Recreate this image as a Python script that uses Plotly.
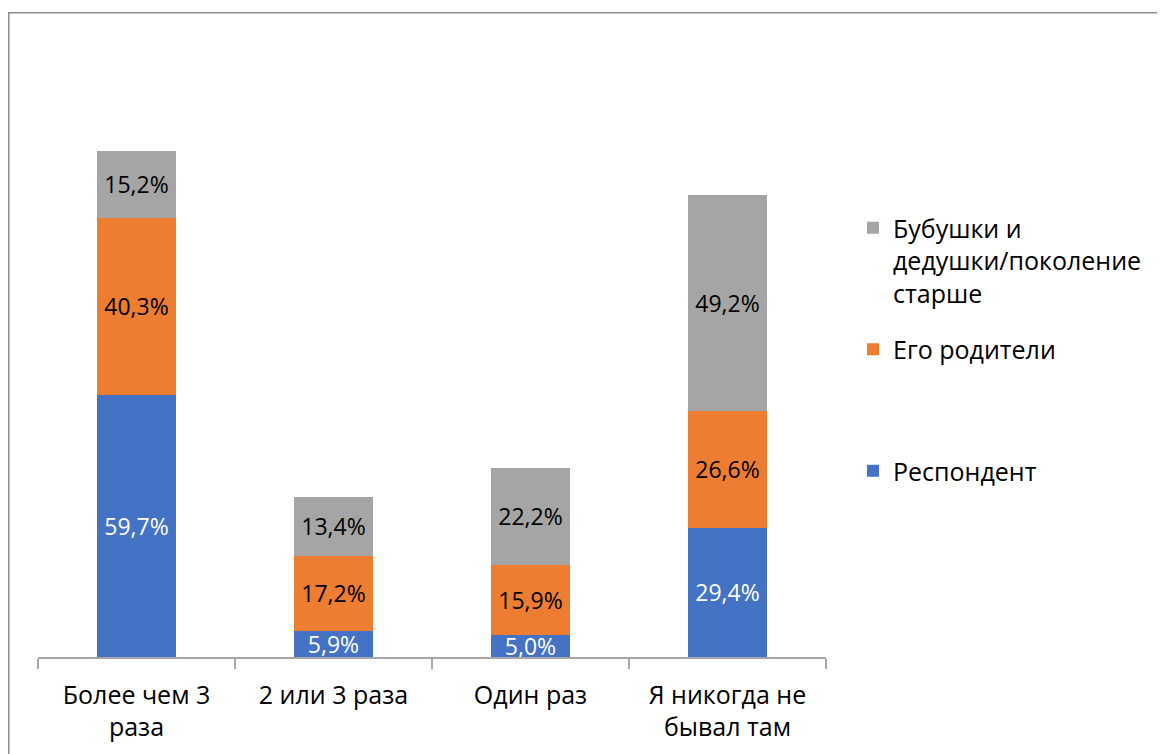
import plotly.graph_objects as go

categories = ["Более чем 3<br>раза", "2 или 3 раза", "Один раз", "Я никогда не<br>бывал там"]
respondent = [59.7, 5.9, 5.0, 29.4]
parents = [40.3, 17.2, 15.9, 26.6]
grandparents = [15.2, 13.4, 22.2, 49.2]

series_names = ["Респондент", "Его родители<br> <br> ", "Бубушки и<br>дедушки/поколение<br>старше"]
series_colors = ["#4472C4", "#ED7D31", "#A5A5A5"]
label_colors = ["white", "black", "black"]
legend_ranks = [3, 2, 1]

FONT = "Open Sans"
FS = 23
FS_BIG = 25

fig = go.Figure()
for i, (name, vals) in enumerate(zip(series_names, [respondent, parents, grandparents])):
    fig.add_trace(go.Bar(
        x=categories, y=vals, name=name, legendgroup=f"g{i}", legendrank=legend_ranks[i],
        marker=dict(color=series_colors[i], line=dict(width=0)),
        texttemplate="%{y:.1f}%", textposition="inside", insidetextanchor="middle",
        textangle=0, constraintext="none",
        textfont=dict(family=FONT, size=FS, color=label_colors[i]),
        hoverinfo="skip",
    ))

OFF = 8  # page offset
W, H = 1165 - OFF, 754 - OFF
ml, mt = 38 - OFF, 42 - OFF
plot_right, plot_bottom = 826 - OFF, 657 - OFF
mr, mb = W - plot_right, H - plot_bottom
pw, ph = plot_right - ml, plot_bottom - mt

fig.update_layout(
    width=W, height=H, barmode="stack", bargap=0.6,
    separators=", ",
    paper_bgcolor="white", plot_bgcolor="white",
    margin=dict(l=ml, r=mr, t=mt, b=mb, pad=0),
    font=dict(family=FONT, size=FS, color="black"),
    legend=dict(
        x=(853 - OFF - ml) / pw, xanchor="left",
        y=(plot_bottom - (205 - OFF)) / ph, yanchor="top",
        traceorder="grouped", tracegroupgap=21,
        valign="top", font=dict(family=FONT, size=FS_BIG, color="black"),
        bgcolor="rgba(0,0,0,0)",
    ),
    xaxis=dict(
        showline=True, linecolor="#A6A6A6", linewidth=1.5,
        ticks="outside", tickson="boundaries", ticklen=10, tickcolor="#A6A6A6", tickwidth=1.5,
        tickfont=dict(family=FONT, size=FS_BIG, color="black"),
        ticklabelstandoff=15,
        showgrid=False, zeroline=False,
    ),
    yaxis=dict(range=[0, 140], visible=False, showgrid=False, zeroline=False),
    shapes=[dict(
        type="rect", xref="paper", yref="paper",
        x0=(0.75 - ml) / pw, x1=(W + 50 - ml) / pw,
        y0=-(mb + 50) / ph, y1=(plot_bottom - 4.75) / ph,
        line=dict(color="#8C8C8C", width=1.5), fillcolor="rgba(0,0,0,0)", layer="below",
    )],
)

fig.write_html("out.html")
